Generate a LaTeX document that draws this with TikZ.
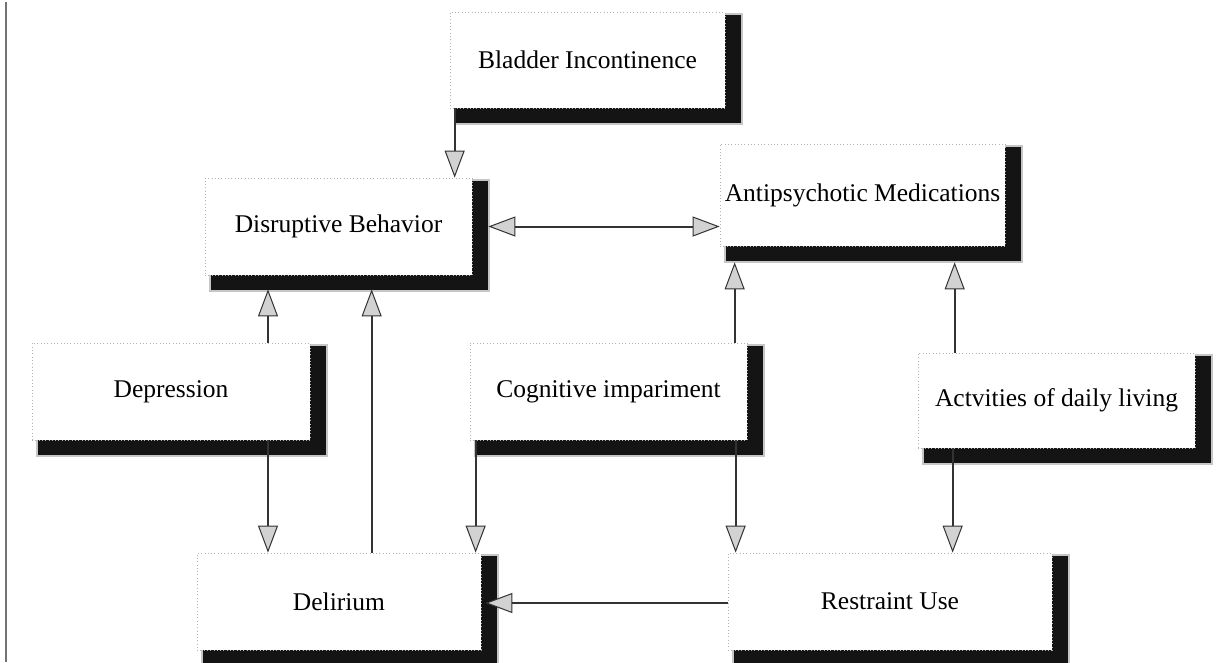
\documentclass[tikz,border=0pt]{standalone}
\usepackage{fontspec}
\setmainfont{Liberation Serif}
\usetikzlibrary{arrows.meta,backgrounds,calc}
\begin{document}
\begin{tikzpicture}[x=1pt,y=-1pt,
  cbox/.style={draw=gray!60, dash pattern=on 0.8pt off 2.5pt, line width=0.7pt,
    fill=white, inner sep=0pt, font=\fontsize{25.5}{30}\selectfont},
  tip/.tip={Triangle[length=27pt,width=20pt,fill=gray!35,line width=1pt]},
  arr/.style={draw=black!80, line width=2pt, -tip},
  dbl/.style={draw=black!80, line width=2pt, tip-tip}
]
\useasboundingbox (0,0) rectangle (1226,662);

% boxes
\node[cbox, minimum width=275pt, minimum height=96pt]  (bl)   at (587.5,60)    {Bladder Incontinence};
\node[cbox, minimum width=267pt, minimum height=97pt]  (dis)  at (338.5,226.5) {Disruptive Behavior};
\node[cbox, minimum width=285pt, minimum height=102pt] (anti) at (862.5,195)   {Antipsychotic Medications};
\node[cbox, minimum width=278pt, minimum height=97pt]  (dep)  at (171,391.5)   {Depression};
\node[cbox, minimum width=277pt, minimum height=97pt]  (cog)  at (608.5,391.5) {Cognitive impariment};
\node[cbox, minimum width=277pt, minimum height=95pt]  (act)  at (1056.5,400.5){Actvities of daily living};
\node[cbox, minimum width=284pt, minimum height=97pt]  (del)  at (339,601.5)   {Delirium};
\node[cbox, minimum width=324pt, minimum height=97pt]  (res)  at (890,601.5)   {Restraint Use};

% shadows
\begin{scope}[on background layer]
  \fill[white] (0,0) rectangle (1226,662);
  \foreach \n in {bl,dis,anti,dep,cog,act,del,res}{
    \fill[gray!45] ([shift={(4,1)}]\n.north west) rectangle ([shift={(18,17)}]\n.south east);
    \fill[black!92] ([shift={(6,3)}]\n.north west) rectangle ([shift={(16,15)}]\n.south east);
  }
\end{scope}

% left rule
\draw[black!55, line width=1.5pt] (6,2) -- (6,662);

% connectors
\coordinate (a1) at ($(bl.south west)+(5,0)$);
\draw[arr] (a1) -- (a1 |- dis.north);

\draw[dbl] ($(dis.east)+(16,0)$) -- (dis.east -| anti.west);

\coordinate (a3) at ($(dep.north)+(97,0)$);
\draw[arr] (a3) -- ($(a3 |- dis.south)+(0,14)$);

\coordinate (a4) at ($(del.north west)+(175,0)$);
\draw[arr] (a4) -- ($(a4 |- dis.south)+(0,14)$);

\coordinate (a5) at ($(dep.south)+(97,0)$);
\draw[arr] (a5) -- (a5 |- del.north);

\coordinate (a6) at ($(cog.south west)+(6,0)$);
\draw[arr] (a6) -- (a6 |- del.north);

\coordinate (a7) at ($(cog.north west)+(265,0)$);
\draw[arr] (a7) -- ($(a7 |- anti.south)+(0,16)$);

\coordinate (a8) at ($(cog.south west)+(266,0)$);
\draw[arr] (a8) -- (a8 |- res.north);

\coordinate (a9) at ($(act.north west)+(37,0)$);
\draw[arr] (a9) -- ($(a9 |- anti.south)+(0,16)$);

\coordinate (a10) at ($(act.south west)+(35,0)$);
\draw[arr] (a10) -- (a10 |- res.north);

\coordinate (a11) at ($(res.west)+(0,1.5)$);
\draw[arr] (a11) -- ($(a11 -| del.east)+(4,0)$);
\end{tikzpicture}
\end{document}
